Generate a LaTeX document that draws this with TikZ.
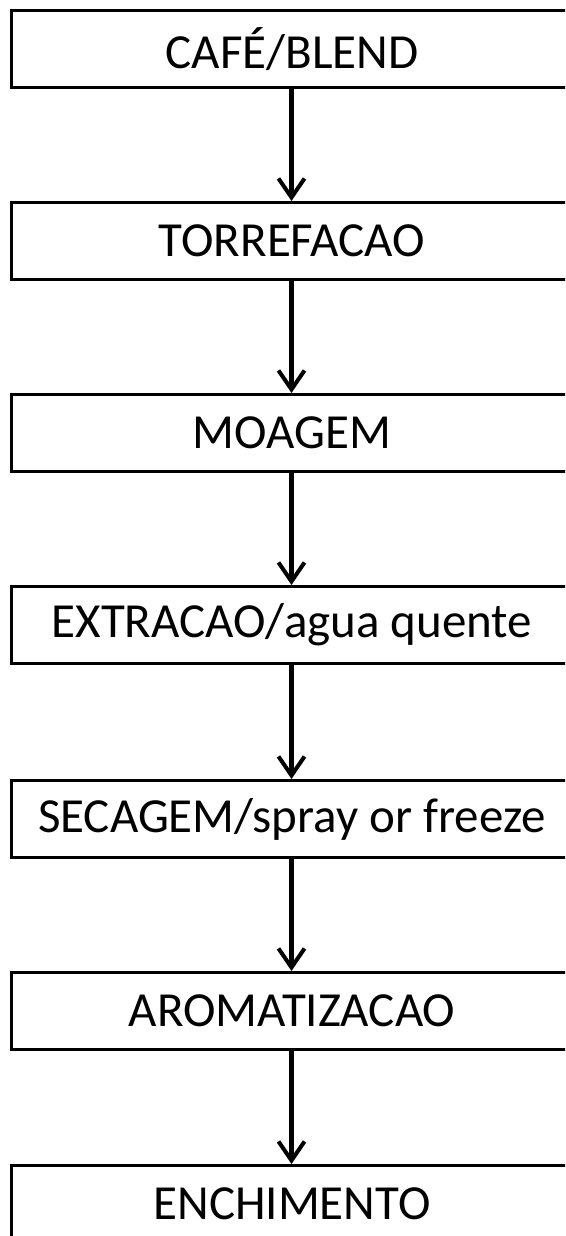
\documentclass[tikz,border=0pt]{standalone}
\usepackage{fontspec}
\setmainfont{Carlito}
\usetikzlibrary{arrows.meta}
\begin{document}
\begin{tikzpicture}[x=1pt,y=-1pt,
  box/.style={draw=black, line width=3pt, fill=white, anchor=north west,
    minimum width=562pt, minimum height=77pt, inner sep=0pt,
    font=\fontsize{49}{55}\selectfont, text=black},
  flow/.style={line width=4.5pt, -{Straight Barb[length=19pt,width=26pt,line width=4pt]}}]
\useasboundingbox (0,0) rectangle (565,1236);
\clip (0,0) rectangle (565,1236);
\fill[white] (0,0) rectangle (565,1236);
\node[box] (b1) at (9.5,9) {CAFÉ/BLEND};
\node[box] (b2) at (9.5,201) {TORREFACAO};
\node[box] (b3) at (9.5,393) {MOAGEM};
\node[box] (b4) at (9.5,585) {EXTRACAO/agua quente};
\node[box] (b5) at (9.5,779) {SECAGEM/spray or freeze};
\node[box] (b6) at (9.5,971) {AROMATIZACAO};
\node[box] (b7) at (9.5,1164) {ENCHIMENTO};
\foreach \a/\b in {b1/b2,b2/b3,b3/b4,b4/b5,b5/b6,b6/b7}{
  \draw[flow] ([xshift=-0.5pt]\a.south) -- ([xshift=-0.5pt]\b.north);
}
\end{tikzpicture}
\end{document}
